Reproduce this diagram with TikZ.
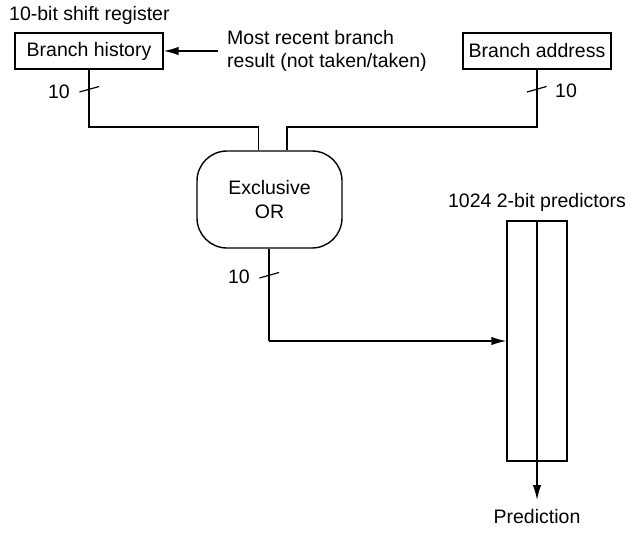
\documentclass[tikz,border=0pt]{standalone}
\usepackage{fontspec}
\setmainfont{Liberation Sans}
\usetikzlibrary{arrows.meta}
\begin{document}
\begin{tikzpicture}[x=1pt,y=-1pt,
  every node/.style={font=\fontsize{19.5}{22.5}\selectfont, inner sep=0pt},
  box/.style={draw, line width=1.4pt},
  wire/.style={line width=1.4pt},
  arr/.style={wire, -{Latex[length=15pt,width=8.5pt]}},
  tick/.style={line width=1.2pt}]
\useasboundingbox (0,0) rectangle (635,533);
% boxes
\node[box, minimum width=148pt, minimum height=36pt] (bh) at (89,51) {Branch history};
\node[box, minimum width=148pt, minimum height=36pt] (ba) at (537,51) {Branch address};
\node[box, rounded corners=30pt, minimum width=145pt, minimum height=97pt, align=center] (xor) at (269.5,199.5) {Exclusive\\[1pt]OR};
\node[box, minimum width=60pt, minimum height=240pt] (pred) at (537,341) {};
% labels
\node[anchor=west] (lsr) at (9,15) {10-bit shift register};
\node[anchor=west, align=left] (mr) at (227,51) {Most recent branch\\result (not taken/taken)};
\node (lp) at (537,202) {1024 2-bit predictors};
\node (prd) at (537,517) {Prediction};
% coordinates
\coordinate (c1) at (89,127);
\coordinate (c2) at (258.5,127);
\coordinate (c3) at (287,127);
\coordinate (c4) at (537,127);
\coordinate (c5) at (269,341);
\coordinate (pt) at (537,221);
\coordinate (pout) at (537,500);
% wires
\draw[arr] (mr.west) ++(-9,0) coordinate (ms) -- (bh.east);
\draw[wire] (bh.south) -- (c1) -- (c2) -- (c2 |- xor.north);
\draw[wire] (ba.south) -- (c4) -- (c3) -- (c3 |- xor.north);
\draw[wire] (xor.south -| c5) -- (c5);
\draw[arr] (c5) -- (pred.west |- c5);
\draw[arr] (pt) -- (pout);
% ticks
\draw[tick] (79.5,92) -- (99,86.5);
\draw[tick] (527,92) -- (546.5,86.5);
\draw[tick] (259.5,278) -- (279,272.5);
\node (n1) at (59,92) {10};
\node (n2) at (566,91) {10};
\node (n3) at (239,277) {10};
\end{tikzpicture}
\end{document}
